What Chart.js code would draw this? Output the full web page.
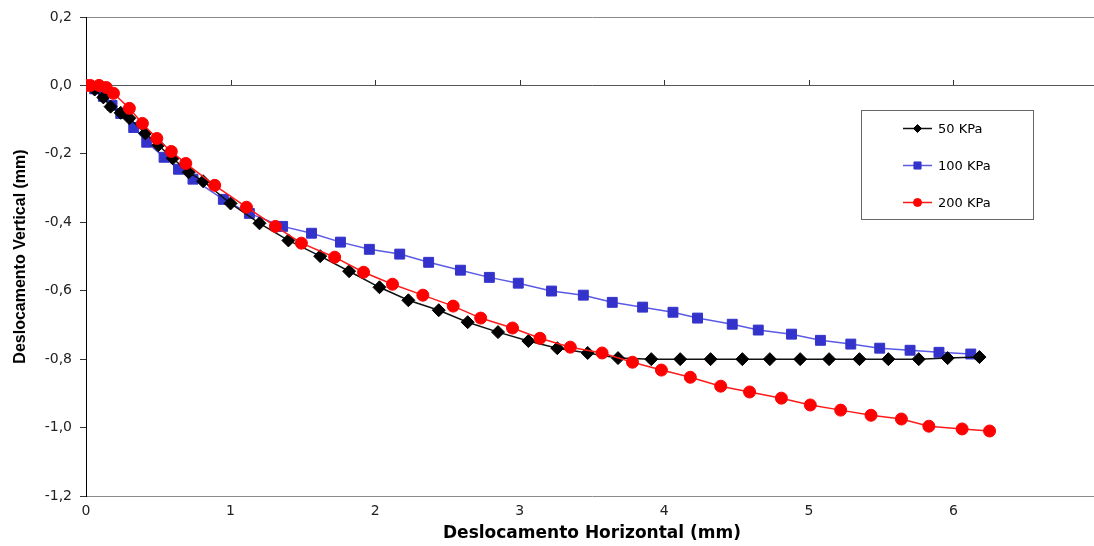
<!DOCTYPE html>
<html>
<head>
<meta charset="utf-8">
<title>Deslocamento Vertical x Horizontal</title>
<script src="https://cdn.jsdelivr.net/npm/chart.js@4.4.1/dist/chart.umd.min.js"></script>
<style>
    html, body { margin: 0; padding: 0; background: #fff; overflow: hidden; }
    #wrap { width: 1094px; height: 546px; overflow: hidden; }
    canvas { display: block; }
</style>
</head>
<body>
<div id="wrap"><canvas id="deslocChart" width="1106" height="546"></canvas></div>
<script>
// Series labels
const seriesLabels = ['50 KPa', '100 KPa', '200 KPa'];

// 50 KPa (black diamonds)
const x50 = [0, 0.06, 0.12, 0.17, 0.24, 0.30, 0.41, 0.50, 0.60, 0.71, 0.81, 1.00, 1.20, 1.40, 1.62, 1.82,
             2.03, 2.23, 2.44, 2.64, 2.85, 3.06, 3.26, 3.47, 3.68, 3.91, 4.11, 4.32, 4.54, 4.73, 4.94,
             5.14, 5.35, 5.55, 5.76, 5.96, 6.18];
const y50 = [0, -0.012, -0.035, -0.062, -0.080, -0.096, -0.140, -0.175, -0.213, -0.254, -0.280, -0.345,
             -0.403, -0.453, -0.499, -0.543, -0.590, -0.628, -0.657, -0.692, -0.721, -0.747, -0.768,
             -0.782, -0.797, -0.800, -0.800, -0.800, -0.800, -0.800, -0.800, -0.800, -0.800, -0.800,
             -0.800, -0.797, -0.794];

// 100 KPa (blue squares)
const x100 = [0, 0.06, 0.12, 0.18, 0.24, 0.33, 0.42, 0.54, 0.64, 0.74, 0.95, 1.13, 1.36, 1.56, 1.76,
              1.96, 2.17, 2.37, 2.59, 2.79, 2.99, 3.22, 3.44, 3.64, 3.85, 4.06, 4.23, 4.47, 4.65, 4.88,
              5.08, 5.29, 5.49, 5.70, 5.90, 6.12];
const y100 = [0, -0.010, -0.032, -0.058, -0.082, -0.123, -0.166, -0.210, -0.245, -0.274, -0.333, -0.374,
              -0.412, -0.432, -0.458, -0.479, -0.493, -0.517, -0.540, -0.561, -0.578, -0.601, -0.613,
              -0.634, -0.648, -0.663, -0.680, -0.698, -0.715, -0.727, -0.745, -0.756, -0.768, -0.774,
              -0.780, -0.785];

// 200 KPa (red circles)
const x200 = [0, 0.03, 0.09, 0.14, 0.19, 0.30, 0.39, 0.49, 0.59, 0.69, 0.89, 1.11, 1.31, 1.49, 1.72,
              1.92, 2.12, 2.33, 2.54, 2.73, 2.95, 3.14, 3.35, 3.57, 3.78, 3.98, 4.18, 4.39, 4.59, 4.81,
              5.01, 5.22, 5.43, 5.64, 5.83, 6.06, 6.25];
const y200 = [0, 0, 0, -0.006, -0.023, -0.067, -0.111, -0.155, -0.193, -0.228, -0.292, -0.356, -0.412,
              -0.461, -0.502, -0.546, -0.581, -0.613, -0.645, -0.680, -0.709, -0.739, -0.765, -0.782,
              -0.809, -0.832, -0.853, -0.879, -0.896, -0.914, -0.934, -0.949, -0.964, -0.975, -0.996,
              -1.004, -1.010];

// Axis ticks
const xTickValues = [0, 1, 2, 3, 4, 5, 6, 7];
const xTickLabels = ['0', '1', '2', '3', '4', '5', '6'];
const yTickValues = [0.2, 0.0, -0.2, -0.4, -0.6, -0.8, -1.0, -1.2];

function toPoints(xs, ys) {
    return xs.map((x, i) => ({ x: x, y: ys[i] }));
}

function gridColor(ctx) {
    if (!ctx.tick) return 'rgba(0,0,0,0)';
    const v = ctx.tick.value;
    if (Math.abs(v) < 1e-6) return '#555555';
    if (Math.abs(v - 0.2) < 1e-6 || Math.abs(v + 1.2) < 1e-6) return '#8a8a8a';
    return 'rgba(0,0,0,0)';
}

// small tick marks on the zero line (Excel style axis crossing at 0)
const zeroLineTicks = {
    id: 'zeroLineTicks',
    beforeDatasetsDraw(chart) {
        const { ctx, scales: { x, y } } = chart;
        const y0 = Math.round(y.getPixelForValue(0));
        ctx.save();
        ctx.strokeStyle = '#333';
        ctx.lineWidth = 1;
        xTickValues.forEach((v, i) => {
            if (v === 0 || !xTickLabels[i]) return;
            const px = Math.round(x.getPixelForValue(v)) + 0.5;
            ctx.beginPath();
            ctx.moveTo(px, y0 - 5);
            ctx.lineTo(px, y0);
            ctx.stroke();
        });
        ctx.restore();
    }
};

// boxed legend inside the plot, top right
const legendRadius = [4, 5, 4];
const boxLegend = {
    id: 'boxLegend',
    afterDraw(chart) {
        const ctx = chart.ctx;
        ctx.save();
        ctx.fillStyle = '#fff';
        ctx.fillRect(861.5, 110.5, 172, 109);
        ctx.strokeStyle = '#666';
        ctx.lineWidth = 1;
        ctx.strokeRect(861.5, 110.5, 172, 109);
        chart.data.datasets.forEach((ds, i) => {
            const cy = 128.5 + i * 37;
            ctx.strokeStyle = ds.borderColor;
            ctx.lineWidth = 1.5;
            ctx.beginPath();
            ctx.moveTo(903, cy);
            ctx.lineTo(932, cy);
            ctx.stroke();
            ctx.fillStyle = ds.pointBackgroundColor;
            ctx.strokeStyle = ds.pointBorderColor;
            ctx.lineWidth = 1;
            Chart.helpers.drawPoint(ctx, { pointStyle: ds.pointStyle, radius: legendRadius[i], borderWidth: 1, rotation: 0 }, 917.5, cy);
            ctx.fillStyle = '#000';
            ctx.font = '13px "DejaVu Sans"';
            ctx.textBaseline = 'middle';
            ctx.textAlign = 'left';
            ctx.fillText(ds.label, 938, cy + 1);
        });
        ctx.restore();
    }
};

document.addEventListener('DOMContentLoaded', function() {
    const chartCtx = document.getElementById('deslocChart');
    new Chart(chartCtx.getContext('2d'), {
        type: 'scatter',
        data: {
            datasets: [{
                label: seriesLabels[0],
                data: toPoints(x50, y50),
                showLine: true,
                borderColor: '#111111',
                borderWidth: 1.5,
                pointStyle: 'rectRot',
                pointRadius: 6.5,
                pointBackgroundColor: '#000000',
                pointBorderColor: '#000000',
                pointBorderWidth: 1,
                tension: 0,
                order: 1
            }, {
                label: seriesLabels[1],
                data: toPoints(x100, y100),
                showLine: true,
                borderColor: '#5a5ae6',
                borderWidth: 1.5,
                pointStyle: 'rect',
                pointRadius: 7,
                pointBackgroundColor: '#3333cc',
                pointBorderColor: '#3333cc',
                pointBorderWidth: 1,
                tension: 0,
                order: 2
            }, {
                label: seriesLabels[2],
                data: toPoints(x200, y200),
                showLine: true,
                borderColor: '#ff1a1a',
                borderWidth: 1.5,
                pointStyle: 'circle',
                pointRadius: 6,
                pointBackgroundColor: '#ff0000',
                pointBorderColor: '#ff0000',
                pointBorderWidth: 1,
                tension: 0,
                order: 0
            }]
        },
        options: {
            responsive: false,
            maintainAspectRatio: false,
            animation: false,
            devicePixelRatio: 1,
            layout: { padding: { top: 17, right: 1, bottom: 0, left: 0 } },
            scales: {
                x: {
                    type: 'linear',
                    min: 0,
                    max: 7,
                    afterBuildTicks: s => { s.ticks = xTickValues.map(v => ({ value: v })); },
                    afterFit: s => { s.height = 50; },
                    grid: { display: false, drawTicks: false },
                    border: { display: false },
                    ticks: {
                        callback: (v, i) => xTickLabels[i] ?? '',
                        padding: 7,
                        maxRotation: 0,
                        autoSkip: false,
                        color: '#222',
                        font: { family: 'DejaVu Sans', size: 14 }
                    },
                    title: {
                        display: true,
                        text: 'Deslocamento Horizontal (mm)',
                        color: '#000',
                        font: { family: 'DejaVu Sans', size: 17, weight: 'bold' },
                        padding: { top: 0, bottom: 2 }
                    }
                },
                y: {
                    type: 'linear',
                    min: -1.2,
                    max: 0.2,
                    afterBuildTicks: s => { s.ticks = yTickValues.map(v => ({ value: v })); },
                    afterFit: s => { s.width = 86; },
                    grid: {
                        color: gridColor,
                        drawTicks: true,
                        tickLength: 6,
                        tickColor: '#333',
                        lineWidth: 1
                    },
                    border: { display: true, color: '#000', width: 1 },
                    ticks: {
                        callback: v => v.toFixed(1).replace('.', ','),
                        padding: 8,
                        color: '#222',
                        font: { family: 'DejaVu Sans', size: 14 }
                    },
                    title: {
                        display: true,
                        text: 'Deslocamento Vertical (mm)',
                        color: '#000',
                        font: { family: 'Liberation Sans', size: 16, weight: 'bold' },
                        padding: { top: 11, bottom: 0 }
                    }
                }
            },
            plugins: {
                legend: { display: false },
                tooltip: { enabled: false }
            }
        },
        plugins: [zeroLineTicks, boxLegend]
    });
});
</script>
</body>
</html>
